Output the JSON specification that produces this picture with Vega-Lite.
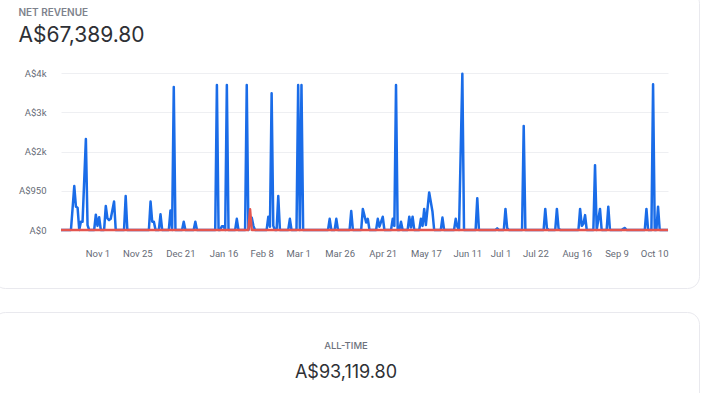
{
  "$schema": "https://vega.github.io/schema/vega-lite/v6.json",
  "background": "white",
  "padding": {"left": -8, "top": -10, "right": 0, "bottom": 0},
  "autosize": {"type": "pad"},
  "spacing": 22,
  "config": {
    "font": "Inter",
    "view": {"stroke": null},
    "axis": {"labelFont": "Roboto", "labelFontSize": 9.5, "labelColor": "#666b76", "ticks": false, "tickSize": 0, "domain": false}
  },
  "datasets": {
    "revenue": [
      {"date": "2023-10-10", "series": "Net", "value": 0},
      {"date": "2023-10-16", "series": "Net", "value": 0},
      {"date": "2023-10-18", "series": "Net", "value": 1065},
      {"date": "2023-10-19", "series": "Net", "value": 565},
      {"date": "2023-10-20", "series": "Net", "value": 540},
      {"date": "2023-10-21", "series": "Net", "value": 0},
      {"date": "2023-10-22", "series": "Net", "value": 200},
      {"date": "2023-10-23", "series": "Net", "value": 200},
      {"date": "2023-10-25", "series": "Net", "value": 2200},
      {"date": "2023-10-26", "series": "Net", "value": 120},
      {"date": "2023-10-27", "series": "Net", "value": 0},
      {"date": "2023-10-30", "series": "Net", "value": 0},
      {"date": "2023-10-31", "series": "Net", "value": 370},
      {"date": "2023-11-01", "series": "Net", "value": 100},
      {"date": "2023-11-02", "series": "Net", "value": 310},
      {"date": "2023-11-03", "series": "Net", "value": 0},
      {"date": "2023-11-05", "series": "Net", "value": 0},
      {"date": "2023-11-06", "series": "Net", "value": 580},
      {"date": "2023-11-07", "series": "Net", "value": 280},
      {"date": "2023-11-08", "series": "Net", "value": 240},
      {"date": "2023-11-09", "series": "Net", "value": 270},
      {"date": "2023-11-11", "series": "Net", "value": 690},
      {"date": "2023-11-12", "series": "Net", "value": 0},
      {"date": "2023-11-17", "series": "Net", "value": 0},
      {"date": "2023-11-18", "series": "Net", "value": 820},
      {"date": "2023-11-19", "series": "Net", "value": 0},
      {"date": "2023-12-02", "series": "Net", "value": 0},
      {"date": "2023-12-03", "series": "Net", "value": 690},
      {"date": "2023-12-04", "series": "Net", "value": 200},
      {"date": "2023-12-05", "series": "Net", "value": 200},
      {"date": "2023-12-06", "series": "Net", "value": 0},
      {"date": "2023-12-08", "series": "Net", "value": 0},
      {"date": "2023-12-09", "series": "Net", "value": 380},
      {"date": "2023-12-10", "series": "Net", "value": 0},
      {"date": "2023-12-14", "series": "Net", "value": 0},
      {"date": "2023-12-15", "series": "Net", "value": 470},
      {"date": "2023-12-16", "series": "Net", "value": 0},
      {"date": "2023-12-17", "series": "Net", "value": 3460},
      {"date": "2023-12-18", "series": "Net", "value": 0},
      {"date": "2023-12-22", "series": "Net", "value": 0},
      {"date": "2023-12-23", "series": "Net", "value": 200},
      {"date": "2023-12-24", "series": "Net", "value": 0},
      {"date": "2023-12-29", "series": "Net", "value": 0},
      {"date": "2023-12-30", "series": "Net", "value": 200},
      {"date": "2023-12-31", "series": "Net", "value": 0},
      {"date": "2024-01-11", "series": "Net", "value": 0},
      {"date": "2024-01-12", "series": "Net", "value": 3510},
      {"date": "2024-01-13", "series": "Net", "value": 0},
      {"date": "2024-01-14", "series": "Net", "value": 0},
      {"date": "2024-01-15", "series": "Net", "value": 90},
      {"date": "2024-01-16", "series": "Net", "value": 90},
      {"date": "2024-01-17", "series": "Net", "value": 0},
      {"date": "2024-01-18", "series": "Net", "value": 3510},
      {"date": "2024-01-19", "series": "Net", "value": 0},
      {"date": "2024-01-23", "series": "Net", "value": 0},
      {"date": "2024-01-24", "series": "Net", "value": 270},
      {"date": "2024-01-25", "series": "Net", "value": 0},
      {"date": "2024-01-29", "series": "Net", "value": 0},
      {"date": "2024-01-30", "series": "Net", "value": 3510},
      {"date": "2024-01-31", "series": "Net", "value": 0},
      {"date": "2024-02-02", "series": "Net", "value": 300},
      {"date": "2024-02-03", "series": "Net", "value": 100},
      {"date": "2024-02-04", "series": "Net", "value": 0},
      {"date": "2024-02-11", "series": "Net", "value": 0},
      {"date": "2024-02-12", "series": "Net", "value": 320},
      {"date": "2024-02-13", "series": "Net", "value": 80},
      {"date": "2024-02-14", "series": "Net", "value": 3310},
      {"date": "2024-02-15", "series": "Net", "value": 100},
      {"date": "2024-02-16", "series": "Net", "value": 0},
      {"date": "2024-02-17", "series": "Net", "value": 0},
      {"date": "2024-02-18", "series": "Net", "value": 820},
      {"date": "2024-02-19", "series": "Net", "value": 0},
      {"date": "2024-02-24", "series": "Net", "value": 0},
      {"date": "2024-02-25", "series": "Net", "value": 270},
      {"date": "2024-02-26", "series": "Net", "value": 0},
      {"date": "2024-02-29", "series": "Net", "value": 0},
      {"date": "2024-03-01", "series": "Net", "value": 3510},
      {"date": "2024-03-02", "series": "Net", "value": 0},
      {"date": "2024-03-03", "series": "Net", "value": 3510},
      {"date": "2024-03-04", "series": "Net", "value": 0},
      {"date": "2024-03-19", "series": "Net", "value": 0},
      {"date": "2024-03-20", "series": "Net", "value": 270},
      {"date": "2024-03-21", "series": "Net", "value": 0},
      {"date": "2024-03-23", "series": "Net", "value": 0},
      {"date": "2024-03-24", "series": "Net", "value": 270},
      {"date": "2024-03-25", "series": "Net", "value": 0},
      {"date": "2024-04-01", "series": "Net", "value": 0},
      {"date": "2024-04-02", "series": "Net", "value": 460},
      {"date": "2024-04-03", "series": "Net", "value": 0},
      {"date": "2024-04-08", "series": "Net", "value": 0},
      {"date": "2024-04-09", "series": "Net", "value": 510},
      {"date": "2024-04-11", "series": "Net", "value": 180},
      {"date": "2024-04-12", "series": "Net", "value": 270},
      {"date": "2024-04-13", "series": "Net", "value": 0},
      {"date": "2024-04-17", "series": "Net", "value": 0},
      {"date": "2024-04-18", "series": "Net", "value": 270},
      {"date": "2024-04-19", "series": "Net", "value": 80},
      {"date": "2024-04-21", "series": "Net", "value": 320},
      {"date": "2024-04-22", "series": "Net", "value": 0},
      {"date": "2024-04-26", "series": "Net", "value": 0},
      {"date": "2024-04-27", "series": "Net", "value": 270},
      {"date": "2024-04-28", "series": "Net", "value": 100},
      {"date": "2024-04-29", "series": "Net", "value": 3510},
      {"date": "2024-04-30", "series": "Net", "value": 0},
      {"date": "2024-05-01", "series": "Net", "value": 0},
      {"date": "2024-05-02", "series": "Net", "value": 200},
      {"date": "2024-05-03", "series": "Net", "value": 0},
      {"date": "2024-05-06", "series": "Net", "value": 0},
      {"date": "2024-05-07", "series": "Net", "value": 320},
      {"date": "2024-05-08", "series": "Net", "value": 60},
      {"date": "2024-05-09", "series": "Net", "value": 320},
      {"date": "2024-05-10", "series": "Net", "value": 0},
      {"date": "2024-05-13", "series": "Net", "value": 0},
      {"date": "2024-05-14", "series": "Net", "value": 270},
      {"date": "2024-05-15", "series": "Net", "value": 100},
      {"date": "2024-05-16", "series": "Net", "value": 510},
      {"date": "2024-05-17", "series": "Net", "value": 120},
      {"date": "2024-05-19", "series": "Net", "value": 910},
      {"date": "2024-05-21", "series": "Net", "value": 440},
      {"date": "2024-05-22", "series": "Net", "value": 0},
      {"date": "2024-05-26", "series": "Net", "value": 0},
      {"date": "2024-05-27", "series": "Net", "value": 300},
      {"date": "2024-05-28", "series": "Net", "value": 0},
      {"date": "2024-06-03", "series": "Net", "value": 0},
      {"date": "2024-06-04", "series": "Net", "value": 270},
      {"date": "2024-06-05", "series": "Net", "value": 80},
      {"date": "2024-06-06", "series": "Net", "value": 0},
      {"date": "2024-06-08", "series": "Net", "value": 3780},
      {"date": "2024-06-09", "series": "Net", "value": 0},
      {"date": "2024-06-16", "series": "Net", "value": 0},
      {"date": "2024-06-17", "series": "Net", "value": 770},
      {"date": "2024-06-18", "series": "Net", "value": 0},
      {"date": "2024-06-28", "series": "Net", "value": 0},
      {"date": "2024-06-29", "series": "Net", "value": 40},
      {"date": "2024-06-30", "series": "Net", "value": 0},
      {"date": "2024-07-03", "series": "Net", "value": 0},
      {"date": "2024-07-04", "series": "Net", "value": 510},
      {"date": "2024-07-05", "series": "Net", "value": 50},
      {"date": "2024-07-06", "series": "Net", "value": 0},
      {"date": "2024-07-14", "series": "Net", "value": 0},
      {"date": "2024-07-15", "series": "Net", "value": 2520},
      {"date": "2024-07-16", "series": "Net", "value": 0},
      {"date": "2024-07-27", "series": "Net", "value": 0},
      {"date": "2024-07-28", "series": "Net", "value": 510},
      {"date": "2024-07-29", "series": "Net", "value": 40},
      {"date": "2024-07-30", "series": "Net", "value": 0},
      {"date": "2024-08-03", "series": "Net", "value": 0},
      {"date": "2024-08-04", "series": "Net", "value": 510},
      {"date": "2024-08-05", "series": "Net", "value": 40},
      {"date": "2024-08-06", "series": "Net", "value": 0},
      {"date": "2024-08-17", "series": "Net", "value": 0},
      {"date": "2024-08-18", "series": "Net", "value": 510},
      {"date": "2024-08-19", "series": "Net", "value": 100},
      {"date": "2024-08-20", "series": "Net", "value": 150},
      {"date": "2024-08-21", "series": "Net", "value": 360},
      {"date": "2024-08-22", "series": "Net", "value": 0},
      {"date": "2024-08-26", "series": "Net", "value": 0},
      {"date": "2024-08-27", "series": "Net", "value": 1570},
      {"date": "2024-08-28", "series": "Net", "value": 0},
      {"date": "2024-08-30", "series": "Net", "value": 510},
      {"date": "2024-08-31", "series": "Net", "value": 0},
      {"date": "2024-09-03", "series": "Net", "value": 0},
      {"date": "2024-09-04", "series": "Net", "value": 565},
      {"date": "2024-09-05", "series": "Net", "value": 0},
      {"date": "2024-09-12", "series": "Net", "value": 0},
      {"date": "2024-09-13", "series": "Net", "value": 30},
      {"date": "2024-09-14", "series": "Net", "value": 50},
      {"date": "2024-09-15", "series": "Net", "value": 0},
      {"date": "2024-09-26", "series": "Net", "value": 0},
      {"date": "2024-09-27", "series": "Net", "value": 510},
      {"date": "2024-09-28", "series": "Net", "value": 0},
      {"date": "2024-09-30", "series": "Net", "value": 0},
      {"date": "2024-10-01", "series": "Net", "value": 3530},
      {"date": "2024-10-02", "series": "Net", "value": 0},
      {"date": "2024-10-03", "series": "Net", "value": 0},
      {"date": "2024-10-04", "series": "Net", "value": 565},
      {"date": "2024-10-05", "series": "Net", "value": 0},
      {"date": "2024-10-10", "series": "Net", "value": 0},
      {"date": "2023-10-10", "series": "Refunds", "value": 0},
      {"date": "2024-01-31", "series": "Refunds", "value": 0},
      {"date": "2024-02-01", "series": "Refunds", "value": 500},
      {"date": "2024-02-02", "series": "Refunds", "value": 0},
      {"date": "2024-10-10", "series": "Refunds", "value": 0}
    ]
  },
  "vconcat": [
    {
      "columns": 1,
      "align": "none",
      "spacing": -281,
      "concat": [
        {
          "width": 706,
          "height": 297,
          "view": {"stroke": "#e9e9ee", "strokeWidth": 1, "cornerRadius": 12, "fill": "white"},
          "data": {"values": []},
          "mark": {"type": "point", "opacity": 0}
        },
        {
          "spacing": 21,
          "hconcat": [
            {
              "width": 4,
              "height": 10,
              "data": {"values": []},
              "mark": {"type": "point", "opacity": 0}
            },
            {
              "width": 607,
              "height": 157,
              "title": {
                "text": "NET REVENUE",
                "subtitle": "A$67,389.80",
                "anchor": "start",
                "frame": "bounds",
                "font": "Inter",
                "fontSize": 10,
                "fontWeight": 600,
                "color": "#7d828c",
                "subtitleFont": "Inter",
                "subtitleFontSize": 21,
                "subtitleFontWeight": 400,
                "subtitleColor": "#2e3035",
                "subtitlePadding": 7,
                "offset": 22
              },
              "data": {"name": "revenue"},
              "encoding": {
                "x": {
                  "field": "date",
                  "type": "temporal",
                  "scale": {"type": "utc", "domain": [{"year": 2023, "month": 10, "date": 10, "utc": true}, {"year": 2024, "month": 10, "date": 10, "utc": true}], "nice": false},
                  "axis": {
                    "title": null,
                    "grid": false,
                    "labelPadding": 18,
                    "labelOverlap": false,
                    "labelFlush": true,
                    "labelExpr": "utcFormat(datum.value, '%b %-d')",
                    "values": [
                      {"year": 2023, "month": 11, "date": 1, "utc": true},
                      {"year": 2023, "month": 11, "date": 25, "utc": true},
                      {"year": 2023, "month": 12, "date": 21, "utc": true},
                      {"year": 2024, "month": 1, "date": 16, "utc": true},
                      {"year": 2024, "month": 2, "date": 8, "utc": true},
                      {"year": 2024, "month": 3, "date": 1, "utc": true},
                      {"year": 2024, "month": 3, "date": 26, "utc": true},
                      {"year": 2024, "month": 4, "date": 21, "utc": true},
                      {"year": 2024, "month": 5, "date": 17, "utc": true},
                      {"year": 2024, "month": 6, "date": 11, "utc": true},
                      {"year": 2024, "month": 7, "date": 1, "utc": true},
                      {"year": 2024, "month": 7, "date": 22, "utc": true},
                      {"year": 2024, "month": 8, "date": 16, "utc": true},
                      {"year": 2024, "month": 9, "date": 9, "utc": true},
                      {"year": 2024, "month": 10, "date": 10, "utc": true}
                    ]
                  }
                },
                "y": {
                  "field": "value",
                  "type": "quantitative",
                  "scale": {"domain": [0, 3800], "nice": false},
                  "axis": {
                    "title": null,
                    "grid": true,
                    "gridColor": "#eeeff2",
                    "gridWidth": 1,
                    "labelPadding": 15,
                    "values": [0, 950, 1900, 2850, 3800],
                    "labelExpr": "datum.value == 0 ? 'A$0' : datum.value < 1000 ? 'A$950' : 'A$' + round(datum.value / 1000) + 'k'"
                  }
                }
              },
              "layer": [
                {
                  "transform": [{"filter": "datum.series === 'Net'"}],
                  "mark": {"type": "line", "color": "#1a6ce8", "strokeWidth": 2.5, "strokeJoin": "round"}
                },
                {
                  "transform": [{"filter": "datum.series === 'Refunds'"}],
                  "mark": {"type": "line", "color": "#e4554f", "strokeWidth": 2.5, "strokeJoin": "round"}
                }
              ]
            }
          ]
        }
      ]
    },
    {
      "width": 706,
      "height": 100,
      "view": {"stroke": "#e9e9ee", "strokeWidth": 1, "cornerRadius": 12, "fill": "white"},
      "data": {"values": [{"label": "ALL-TIME", "amount": "A$93,119.80"}]},
      "layer": [
        {
          "mark": {"type": "text", "dy": -16, "fontSize": 9.5, "fontWeight": 500, "color": "#6d727c", "font": "Inter"},
          "encoding": {"text": {"field": "label"}}
        },
        {
          "mark": {"type": "text", "dy": 11, "fontSize": 18, "fontWeight": 400, "color": "#2e3035", "font": "Inter"},
          "encoding": {"text": {"field": "amount"}}
        }
      ]
    }
  ]
}
